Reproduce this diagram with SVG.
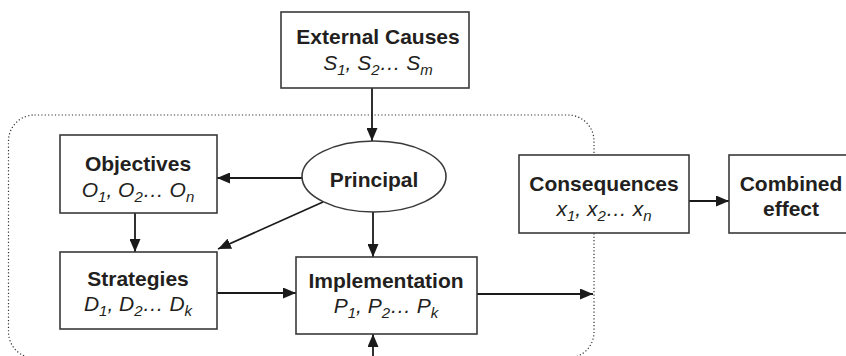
<svg xmlns="http://www.w3.org/2000/svg" width="846" height="356" viewBox="0 0 846 356">
<defs>
<marker id="ah" viewBox="0 0 13 11" refX="13" refY="5.5" markerWidth="13" markerHeight="11" markerUnits="userSpaceOnUse" orient="auto">
<path d="M0,0 L13,5.5 L0,11 Z" fill="#1a1a1a"/>
</marker>
<style>
.box{fill:#fff;stroke:#3a3a3a;stroke-width:1.6}
.t{font-family:"Liberation Sans",Arial,sans-serif;font-weight:bold;font-size:21px;fill:#231f20;text-anchor:middle}
.s{font-family:"Liberation Sans",Arial,sans-serif;font-style:italic;font-size:21px;fill:#231f20;text-anchor:middle}
.sub{font-size:15px}
.c{fill:none;stroke:#1a1a1a;stroke-width:1.8;marker-end:url(#ah)}
.dot{fill:none;stroke:#333;stroke-width:1.2;stroke-dasharray:1.2 2.2}
</style>
</defs>
<rect class="dot" x="8.5" y="115" width="585.5" height="243" rx="26" ry="26"/>
<g id="connectors">
<line class="c" x1="372" y1="88" x2="372" y2="141"/>
<line class="c" x1="302" y1="178" x2="217" y2="178"/>
<line class="c" x1="323" y1="202" x2="218" y2="249"/>
<line class="c" x1="373" y1="212" x2="373" y2="257"/>
<line class="c" x1="135" y1="213" x2="135" y2="252"/>
<line class="c" x1="217" y1="293" x2="296" y2="293"/>
<line class="c" x1="477" y1="294" x2="593" y2="294"/>
<line class="c" x1="373" y1="356" x2="373" y2="334"/>
<line class="c" x1="689" y1="201" x2="729" y2="201"/>
</g>
<g id="external">
<rect class="box" x="281" y="12" width="188" height="76"/>
<text class="t" x="378" y="44">External Causes</text>
<text class="s" x="378" y="70">S<tspan class="sub" dy="5">1</tspan><tspan dy="-5">, S</tspan><tspan class="sub" dy="5">2</tspan><tspan dy="-5">… S</tspan><tspan class="sub" dy="5">m</tspan></text>
</g>
<g id="principal">
<ellipse class="box" cx="374" cy="176.5" rx="72" ry="35.5"/>
<text class="t" x="374" y="187">Principal</text>
</g>
<g id="objectives">
<rect class="box" x="60" y="135" width="157" height="78"/>
<text class="t" x="138" y="171">Objectives</text>
<text class="s" x="138" y="197">O<tspan class="sub" dy="5">1</tspan><tspan dy="-5">, O</tspan><tspan class="sub" dy="5">2</tspan><tspan dy="-5">… O</tspan><tspan class="sub" dy="5">n</tspan></text>
</g>
<g id="strategies">
<rect class="box" x="60" y="252" width="157" height="77"/>
<text class="t" x="138" y="286">Strategies</text>
<text class="s" x="138" y="311">D<tspan class="sub" dy="5">1</tspan><tspan dy="-5">, D</tspan><tspan class="sub" dy="5">2</tspan><tspan dy="-5">… D</tspan><tspan class="sub" dy="5">k</tspan></text>
</g>
<g id="implementation">
<rect class="box" x="296" y="257" width="181" height="77"/>
<text class="t" x="386" y="288">Implementation</text>
<text class="s" x="386" y="313">P<tspan class="sub" dy="5">1</tspan><tspan dy="-5">, P</tspan><tspan class="sub" dy="5">2</tspan><tspan dy="-5">… P</tspan><tspan class="sub" dy="5">k</tspan></text>
</g>
<g id="consequences">
<rect class="box" x="519" y="155" width="170" height="78"/>
<text class="t" x="604" y="191">Consequences</text>
<text class="s" x="604" y="216">x<tspan class="sub" dy="5">1</tspan><tspan dy="-5">, x</tspan><tspan class="sub" dy="5">2</tspan><tspan dy="-5">… x</tspan><tspan class="sub" dy="5">n</tspan></text>
</g>
<g id="combined">
<rect class="box" x="729" y="155" width="125" height="78"/>
<text class="t" x="791" y="191">Combined</text>
<text class="t" x="791" y="216">effect</text>
</g>
</svg>
